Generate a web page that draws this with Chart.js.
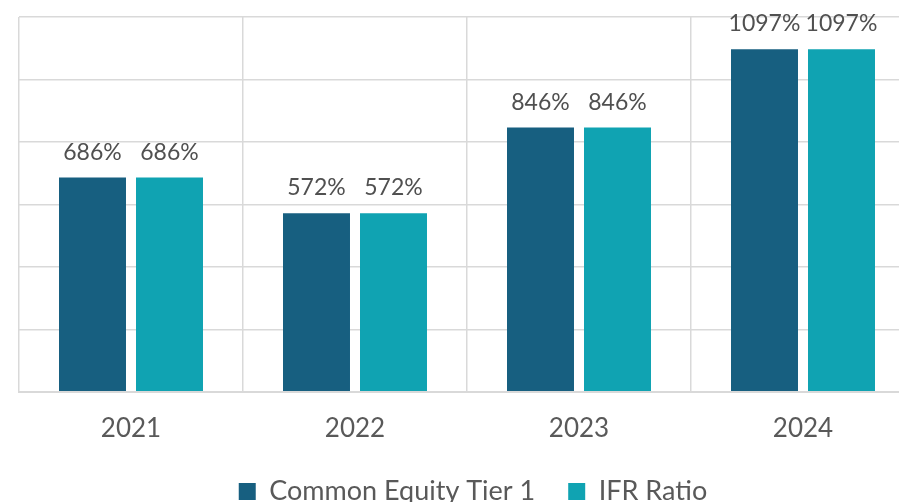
<!DOCTYPE html>
<html>
<head>
<meta charset="utf-8">
<script src="https://cdn.jsdelivr.net/npm/chart.js@4"></script>
<style>
  html, body { margin: 0; padding: 0; background: #fff; overflow: hidden; }
  #wrap { position: relative; width: 946px; height: 515px; }
</style>
</head>
<body>
<div id="wrap"><canvas id="chart"></canvas></div>
<script>
const years = ['2021', '2022', '2023', '2024'];
const cet1Values = [686, 572, 846, 1097];
const ifrValues = [686, 572, 846, 1097];
const seriesNames = ['Common Equity Tier 1', 'IFR Ratio'];

const gridColor = '#D9D9D9';
const textColor = '#595959';

// etiquetas encima de cada barra
const barLabels = {
    id: 'barLabels',
    afterDatasetsDraw(chart) {
        const ctx = chart.ctx;
        ctx.save();
        ctx.font = '23px Lato';
        ctx.fillStyle = '#505050';
        ctx.textAlign = 'center';
        ctx.textBaseline = 'alphabetic';
        chart.data.datasets.forEach((ds, i) => {
            chart.getDatasetMeta(i).data.forEach((bar, j) => {
                ctx.fillText(ds.data[j] + '%', bar.x, bar.y - 18);
            });
        });
        ctx.restore();
    }
};

new Chart(document.getElementById('chart').getContext('2d'), {
    type: 'bar',
    data: {
        labels: years,
        datasets: [
            { label: seriesNames[0], data: cet1Values, backgroundColor: '#175F80' },
            { label: seriesNames[1], data: ifrValues, backgroundColor: '#10A3B2' }
        ]
    },
    options: {
        responsive: true,
        maintainAspectRatio: false,
        animation: false,
        categoryPercentage: 0.6875,
        barPercentage: 0.87,
        layout: { padding: { left: 19, right: 19, top: 17, bottom: 0 } },
        scales: {
            x: {
                grid: { color: gridColor, lineWidth: 1.5, drawTicks: false },
                border: { color: gridColor, width: 2 },
                ticks: { color: textColor, font: { family: 'Lato', size: 26 }, padding: 21 },
                afterFit: (scale) => { scale.height -= 20; }
            },
            y: {
                min: 0,
                max: 1200,
                ticks: { display: false, stepSize: 200 },
                grid: { color: gridColor, lineWidth: 1.5, drawTicks: false },
                border: { display: false }
            },
            // espacio vacío a la derecha para centrar la leyenda como en el original
            y2: {
                position: 'right',
                display: true,
                ticks: { display: false },
                grid: { display: false, drawTicks: false },
                border: { display: false },
                afterFit: (scale) => { scale.width = 12; }
            }
        },
        plugins: {
            legend: {
                position: 'bottom',
                labels: {
                    boxWidth: 17,
                    boxHeight: 17,
                    padding: 33,
                    color: textColor,
                    font: { family: 'Lato', size: 27 }
                }
            },
            tooltip: { enabled: false }
        }
    },
    plugins: [barLabels]
});
</script>
</body>
</html>
